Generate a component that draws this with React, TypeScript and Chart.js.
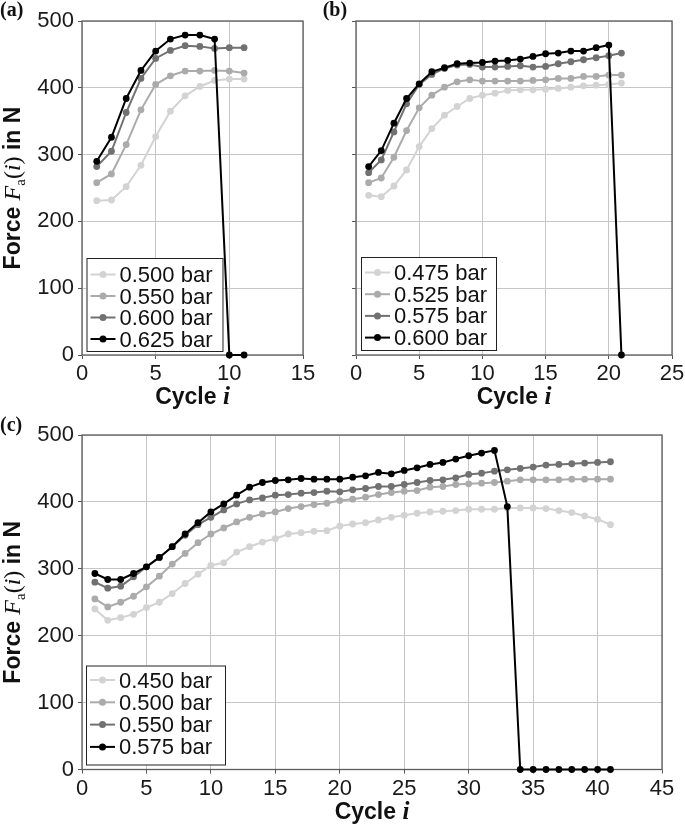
import React, { useEffect, useRef } from 'react';
import { Chart, registerables } from 'chart.js';

Chart.register(...registerables);

// ---------- data ----------
const cyclesA = [1, 2, 3, 4, 5, 6, 7, 8, 9, 10, 11];
const labelsA = ['0.500 bar', '0.550 bar', '0.600 bar', '0.625 bar'];
const a0500 = [231, 232, 252, 284, 327, 365, 388, 402, 411, 413, 413];
const a0550 = [258, 271, 315, 367, 405, 418, 425, 425, 426, 425, 422];
const a0600 = [282, 305, 363, 414, 444, 456, 463, 462, 459, 460, 460];
const a0625 = [290, 326, 384, 426, 455, 473, 479, 479, 473, 0, 0];

const cyclesB = [1, 2, 3, 4, 5, 6, 7, 8, 9, 10, 11, 12, 13, 14, 15, 16, 17, 18, 19, 20, 21];
const labelsB = ['0.475 bar', '0.525 bar', '0.575 bar', '0.600 bar'];
const b0475 = [239, 237, 253, 277, 312, 339, 359, 372, 384, 389, 392, 396, 397, 397, 398, 399, 401, 403, 404, 405, 407];
const b0525 = [258, 265, 296, 336, 370, 389, 401, 409, 412, 410, 410, 410, 410, 411, 412, 414, 414, 417, 417, 419, 419];
const b0575 = [273, 292, 334, 376, 405, 420, 429, 434, 435, 431, 431, 432, 433, 431, 432, 436, 439, 442, 445, 448, 452];
const b0600 = [282, 306, 347, 384, 406, 424, 430, 436, 437, 438, 440, 441, 443, 447, 451, 452, 455, 455, 460, 464, 0];

const cyclesC = [
  1, 2, 3, 4, 5, 6, 7, 8, 9, 10, 11, 12, 13, 14, 15, 16, 17, 18, 19, 20,
  21, 22, 23, 24, 25, 26, 27, 28, 29, 30, 31, 32, 33, 34, 35, 36, 37, 38, 39, 40, 41,
];
const labelsC = ['0.450 bar', '0.500 bar', '0.550 bar', '0.575 bar'];
const c0450 = [240, 223, 227, 232, 242, 250, 263, 278, 292, 305, 309, 325, 333, 340, 345, 352, 354, 356, 357, 364, 367, 369, 373, 377, 380, 383, 385, 386, 387, 389, 389, 389, 391, 391, 391, 390, 387, 384, 379, 374, 366];
const c0500 = [255, 243, 250, 259, 273, 289, 307, 323, 339, 352, 361, 370, 377, 382, 385, 390, 393, 396, 398, 402, 404, 407, 411, 414, 416, 417, 422, 423, 426, 427, 428, 429, 431, 433, 433, 433, 433, 434, 434, 434, 434];
const c0550 = [280, 271, 274, 288, 303, 317, 333, 350, 366, 377, 388, 397, 403, 406, 410, 411, 413, 414, 416, 415, 418, 420, 423, 423, 426, 429, 432, 433, 436, 441, 443, 446, 448, 450, 452, 455, 456, 457, 458, 459, 460];
const c0575 = [293, 284, 284, 293, 303, 317, 333, 352, 369, 385, 397, 410, 422, 429, 432, 433, 435, 434, 434, 434, 437, 439, 444, 442, 447, 451, 456, 459, 464, 469, 473, 477, 393, 0, 0, 0, 0, 0, 0, 0, 0];

const xMaxA = 15;
const xMaxB = 25;
const xMaxC = 45;

// ---------- style ----------
const COLORS = ['#d3d3d3', '#ababab', '#717171', '#000000'];
const SANS = '"Liberation Sans", Arial, Helvetica, sans-serif';
const SERIF = '"Liberation Serif", "Times New Roman", serif';

type Seg = { t: string; f: string; dy: number };

function drawSegs(ctx: CanvasRenderingContext2D, segs: Seg[], x: number, y: number) {
  let total = 0;
  for (const s of segs) {
    ctx.font = s.f;
    total += ctx.measureText(s.t).width;
  }
  let cx = x - total / 2;
  for (const s of segs) {
    ctx.font = s.f;
    ctx.fillText(s.t, cx, y + s.dy);
    cx += ctx.measureText(s.t).width;
  }
}

const decorPlugin = {
  id: 'decor',
  beforeDatasetsDraw(chart: any) {
    const { ctx, chartArea: ca } = chart;
    ctx.save();
    ctx.strokeStyle = '#5c5c5c';
    ctx.lineWidth = 1.3;
    ctx.strokeRect(ca.left, ca.top, ca.right - ca.left, ca.bottom - ca.top);
    ctx.restore();
  },
  afterDraw(chart: any, _args: any, o: any) {
    const { ctx, chartArea: ca } = chart;
    ctx.save();
    ctx.fillStyle = '#111';
    ctx.textAlign = 'left';
    ctx.textBaseline = 'alphabetic';
    // panel tag
    ctx.font = `bold 20px ${SERIF}`;
    ctx.fillText(o.tag, o.tagX, o.tagY);
    // x title
    drawSegs(
      ctx,
      [
        { t: 'Cycle ', f: `bold 23px ${SANS}`, dy: 0 },
        { t: 'i', f: `bold italic 25px ${SERIF}`, dy: 0 },
      ],
      (ca.left + ca.right) / 2,
      ca.bottom + o.xTitleDy
    );
    // y title
    if (o.yTitle) {
      ctx.save();
      ctx.translate(o.yTitleX, (ca.top + ca.bottom) / 2);
      ctx.rotate(-Math.PI / 2);
      drawSegs(
        ctx,
        [
          { t: 'Force ', f: `bold 23px ${SANS}`, dy: 0 },
          { t: 'F', f: `italic 24px ${SERIF}`, dy: 0 },
          { t: 'a', f: `15px ${SERIF}`, dy: 5 },
          { t: '(', f: `24px ${SERIF}`, dy: 0 },
          { t: 'i', f: `italic 24px ${SERIF}`, dy: 0 },
          { t: ')', f: `24px ${SERIF}`, dy: 0 },
          { t: ' in N', f: `bold 23px ${SANS}`, dy: 0 },
        ],
        0,
        0
      );
      ctx.restore();
    }
    // legend
    const L = o.legend;
    const bx = ca.left + L.dx;
    const by = ca.bottom - L.dy - L.h;
    ctx.fillStyle = '#ffffff';
    ctx.fillRect(bx, by, L.w, L.h);
    ctx.strokeStyle = '#222';
    ctx.lineWidth = 1;
    ctx.strokeRect(bx + 0.5, by + 0.5, L.w, L.h);
    chart.data.datasets.forEach((ds: any, i: number) => {
      const base = by + L.first + i * L.step;
      const cy = base - 7.5;
      ctx.strokeStyle = ds.borderColor;
      ctx.lineWidth = 2;
      ctx.beginPath();
      ctx.moveTo(bx + 4, cy);
      ctx.lineTo(bx + 29, cy);
      ctx.stroke();
      ctx.fillStyle = ds.borderColor;
      ctx.beginPath();
      ctx.arc(bx + 16.5, cy, 3.5, 0, Math.PI * 2);
      ctx.fill();
      ctx.fillStyle = '#111';
      ctx.font = `22px ${SANS}`;
      ctx.fillText(ds.label, bx + 33, base);
    });
    ctx.restore();
  },
};

type PanelProps = {
  left: number;
  top: number;
  width: number;
  height: number;
  padding: { left: number; top: number; right: number; bottom: number };
  yAxisWidth: number;
  xAxisHeight: number;
  xMax: number;
  cycles: number[];
  series: number[][];
  labels: string[];
  showYLabels: boolean;
  decor: any;
};

function Panel(p: PanelProps) {
  const ref = useRef<HTMLCanvasElement | null>(null);
  useEffect(() => {
    if (!ref.current) return;
    const chart = new Chart(ref.current, {
      type: 'line',
      data: {
        datasets: p.series.map((vals, i) => ({
          label: p.labels[i],
          data: p.cycles.map((c, k) => ({ x: c, y: vals[k] })),
          borderColor: COLORS[i],
          backgroundColor: COLORS[i],
          pointBackgroundColor: COLORS[i],
          pointBorderColor: COLORS[i],
          pointRadius: 3.4,
          pointBorderWidth: 0,
          borderWidth: 2,
          tension: 0,
          order: 3 - i,
          clip: false as any,
        })),
      },
      options: {
        responsive: false,
        animation: false,
        devicePixelRatio: 1,
        events: [],
        layout: { padding: p.padding },
        plugins: {
          legend: { display: false },
          tooltip: { enabled: false },
          decor: p.decor,
        } as any,
        scales: {
          x: {
            type: 'linear',
            min: 0,
            max: p.xMax,
            afterFit: (s: any) => {
              s.height = p.xAxisHeight;
              s.paddingLeft = 0;
              s.paddingRight = 0;
            },
            ticks: {
              stepSize: 5,
              color: '#1a1a1a',
              font: { family: SANS, size: 22 },
              padding: 2,
              maxRotation: 0,
              autoSkip: false,
            },
            grid: { color: '#c6c6c6', lineWidth: 1, tickColor: '#555', tickLength: 4 },
            border: { display: false },
          },
          y: {
            type: 'linear',
            min: 0,
            max: 500,
            afterFit: (s: any) => {
              s.width = p.yAxisWidth;
              s.paddingTop = 0;
              s.paddingBottom = 0;
            },
            ticks: {
              stepSize: 100,
              color: '#1a1a1a',
              font: { family: SANS, size: 22 },
              padding: 4,
              callback: (v: any) => (p.showYLabels ? String(v) : ''),
            },
            grid: { color: '#c6c6c6', lineWidth: 1, tickColor: '#555', tickLength: 4 },
            border: { display: false },
          },
        } as any,
      },
      plugins: [decorPlugin as any],
    });
    return () => chart.destroy();
  }, []);
  return (
    <canvas
      ref={ref}
      width={p.width}
      height={p.height}
      style={{ position: 'absolute', left: p.left, top: p.top, width: p.width, height: p.height }}
    />
  );
}

export default function App() {
  return (
    <div style={{ position: 'absolute', left: 0, top: 0, width: 685, height: 827, background: '#fff', overflow: 'hidden' }}>
      <Panel
        left={0}
        top={0}
        width={318}
        height={415}
        padding={{ left: 0, top: 21, right: 15, bottom: 0 }}
        yAxisWidth={82}
        xAxisHeight={60}
        xMax={xMaxA}
        cycles={cyclesA}
        series={[a0500, a0550, a0600, a0625]}
        labels={labelsA}
        showYLabels={true}
        decor={{
          tag: '(a)', tagX: 0, tagY: 16, xTitleDy: 49, yTitle: true, yTitleX: 20,
          legend: { dx: 4.5, dy: 4, w: 136, h: 93, first: 24, step: 21.5 },
        }}
      />
      <Panel
        left={318}
        top={0}
        width={367}
        height={415}
        padding={{ left: 0, top: 21, right: 13, bottom: 0 }}
        yAxisWidth={38}
        xAxisHeight={60}
        xMax={xMaxB}
        cycles={cyclesB}
        series={[b0475, b0525, b0575, b0600]}
        labels={labelsB}
        showYLabels={false}
        decor={{
          tag: '(b)', tagX: 4.7, tagY: 16, xTitleDy: 49, yTitle: false, yTitleX: 0,
          legend: { dx: 5, dy: 5, w: 135, h: 93, first: 23, step: 21.7 },
        }}
      />
      <Panel
        left={0}
        top={415}
        width={685}
        height={412}
        padding={{ left: 0, top: 20, right: 23, bottom: 0 }}
        yAxisWidth={82}
        xAxisHeight={57.5}
        xMax={xMaxC}
        cycles={cyclesC}
        series={[c0450, c0500, c0550, c0575]}
        labels={labelsC}
        showYLabels={true}
        decor={{
          tag: '(c)', tagX: 0, tagY: 16, xTitleDy: 49, yTitle: true, yTitleX: 20,
          legend: { dx: 4, dy: 5, w: 139, h: 99, first: 22, step: 22.3 },
        }}
      />
    </div>
  );
}
